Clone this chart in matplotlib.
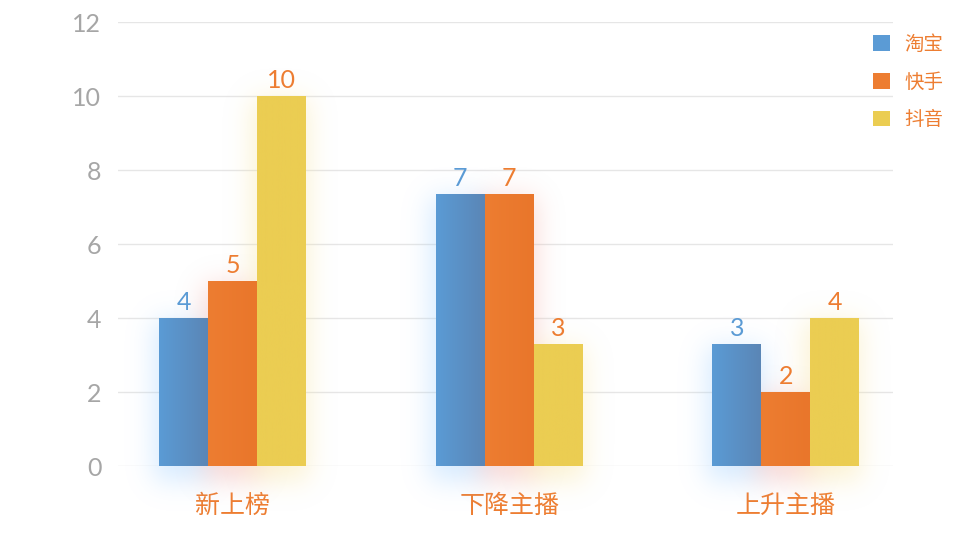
import numpy as np
import matplotlib
matplotlib.use("Agg")
import matplotlib.pyplot as plt
from matplotlib.colors import to_rgb, LinearSegmentedColormap

# ---- data ----
CATEGORIES = ["新上榜", "下降主播", "上升主播"]
SERIES = ["淘宝", "快手", "抖音"]
TAOBAO = [4, 7.35, 3.3]
KUAISHOU = [5, 7.35, 2]
DOUYIN = [10, 3.3, 4]
YTICKS = [0, 2, 4, 6, 8, 10, 12]

# ---- style ----
COLORS = ["#5B9BD5", "#ED7D31", "#EBCD52"]
SHADE = ["#5A86B6", "#E9762B", "#EBCD52"]      # right edge of gradient fill
GLOW = ["#9fd0ff", "#f5a9a0", "#f8e39a"]
LABEL_COLORS = ["#5B9BD5", "#ED7D31", "#ED7D31"]
ORANGE = "#ED7D31"
GREY = "#a6a6a6"

plt.rcParams["font.family"] = ["Lato", "Noto Sans CJK SC", "DejaVu Sans"]

W, H = 969, 533
fig = plt.figure(figsize=(W / 100, H / 100), dpi=100)
ax = fig.add_axes([118 / W, (H - 466) / H, (893 - 118) / W, (466 - 22) / H])

XLIM = (-0.415, 2.388)
YLIM = (0, 12)
bw = 0.177
x = np.arange(len(CATEGORIES))
values = [TAOBAO, KUAISHOU, DOUYIN]

# ---- soft glow behind the bars (blurred rectangle masks) ----
gx0, gx1, gy0, gy1 = XLIM[0], XLIM[1], -1.6, 12.6
nx, ny = 800, 520
gxs = np.linspace(gx0, gx1, nx)
gys = np.linspace(gy0, gy1, ny)
sig = 13.0
k = np.arange(-int(4 * sig), int(4 * sig) + 1)
kern = np.exp(-0.5 * (k / sig) ** 2)
kern /= kern.sum()


def blur(m):
    m = np.apply_along_axis(lambda r: np.convolve(r, kern, mode="same"), 1, m)
    m = np.apply_along_axis(lambda c: np.convolve(c, kern, mode="same"), 0, m)
    return m


for i, vals in enumerate(values):
    mask = np.zeros((ny, nx))
    for j, v in enumerate(vals):
        left = x[j] + (i - 1) * bw - bw / 2
        inx = (gxs >= left - 0.02) & (gxs <= left + bw + 0.01)
        iny = (gys >= -0.4) & (gys <= v - 0.1)
        mask[np.ix_(iny, inx)] = 1.0
    g = blur(mask)
    rgba = np.zeros((ny, nx, 4))
    rgba[..., :3] = to_rgb(GLOW[i])
    rgba[..., 3] = np.clip(g, 0, 1) * 0.42
    im = ax.imshow(rgba, extent=(gx0, gx1, gy0, gy1), origin="lower",
                   aspect="auto", zorder=1, interpolation="bilinear")
    im.set_clip_on(False)

# ---- bars with a slight left-to-right shading ----
for i, vals in enumerate(values):
    cmap = LinearSegmentedColormap.from_list(f"s{i}", [COLORS[i], SHADE[i]])
    pos = x + (i - 1) * bw
    bars = ax.bar(pos, vals, width=bw, color=COLORS[i], zorder=2, label=SERIES[i])
    for b in bars:
        grad = np.linspace(0, 1, 64).reshape(1, -1)
        gi = ax.imshow(grad, cmap=cmap, aspect="auto", zorder=2.5,
                       extent=(b.get_x(), b.get_x() + b.get_width(), 0, b.get_height()))
        gi.set_clip_path(b)
    for p, v in zip(pos, vals):
        ax.annotate(f"{v:.0f}", (p, v), xytext=(0, 3), textcoords="offset points",
                    ha="center", va="bottom", fontsize=18, color=LABEL_COLORS[i],
                    zorder=4)

ax.set_xlim(*XLIM)
ax.set_ylim(*YLIM)
ax.set_yticks(YTICKS)
ax.set_xticks(x)
ax.set_xticklabels(CATEGORIES, color=ORANGE, fontsize=18)
ax.tick_params(axis="y", length=0, pad=12, labelsize=18, labelcolor=GREY)
ax.tick_params(axis="x", length=0, pad=20)
ax.grid(axis="y", color="#e6e6e6", lw=1, zorder=0)
ax.set_axisbelow(True)
for s in ax.spines.values():
    s.set_visible(False)

leg = fig.legend(loc="upper left", bbox_to_anchor=(873 / W, 1 - 34 / H), frameon=False,
                 fontsize=14, handlelength=0.85, handleheight=0.85, handletextpad=0.75,
                 labelspacing=1.0, borderpad=0, borderaxespad=0)
for t in leg.get_texts():
    t.set_color(ORANGE)

fig.savefig("out.png", dpi=100)
